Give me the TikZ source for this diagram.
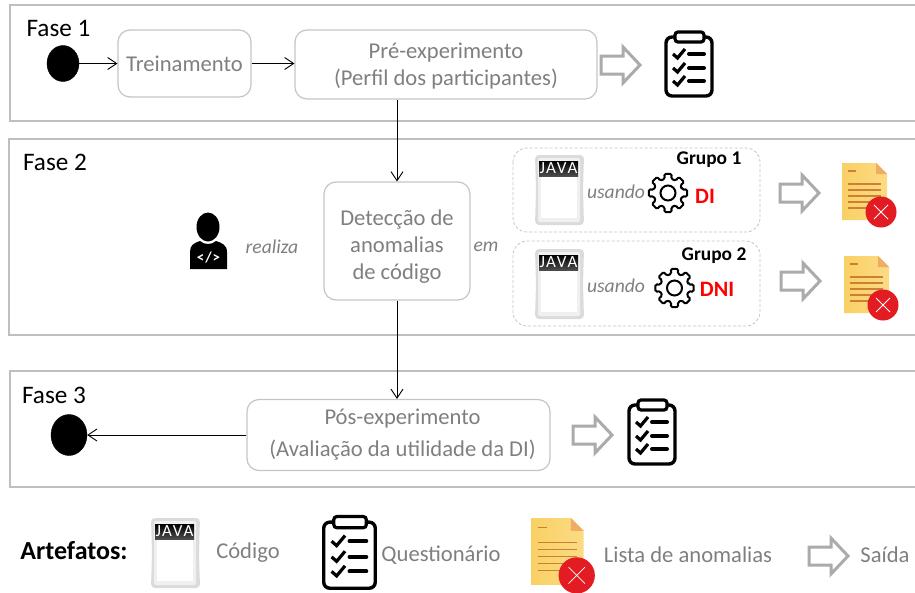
\documentclass[tikz,border=0pt]{standalone}
\usepackage{fontspec}
\setmainfont{Carlito}
\usetikzlibrary{arrows.meta, shapes.geometric}

\definecolor{framegray}{HTML}{BFBFBF}
\definecolor{boxgray}{HTML}{C4C4C4}
\definecolor{textgray}{HTML}{7F7F7F}
\definecolor{arrowgray}{HTML}{ABABAB}
\definecolor{anomalyred}{HTML}{E31B23}
\definecolor{sheetyellow}{HTML}{F9D065}
\definecolor{sheetyellowlight}{HTML}{FBDB84}
\definecolor{sheetfold}{HTML}{F0AC62}
\definecolor{sheetline}{HTML}{CC7F35}

\tikzset{
    framebox/.style={draw=framegray, line width=1.5pt},
    stepbox/.style={draw=boxgray, line width=1.2pt, rounded corners=12pt, text=textgray, align=center, font=\fontsize{22.6}{27}\selectfont},
    groupbox/.style={draw=boxgray, densely dashed, line width=0.8pt, rounded corners=14pt},
    blackdot/.style={draw, fill=black, ellipse, inner sep=0pt},
    flow/.style={-{Straight Barb[length=9pt,width=12pt]}, line width=0.9pt},
    phaselabel/.style={font=\fontsize{25.2}{29}\selectfont, text=black},
    graylabel/.style={font=\fontsize{22.6}{27}\selectfont, text=textgray},
    verblabel/.style={font=\fontsize{19.6}{23}\selectfont\itshape, text=textgray},
    grouplabel/.style={font=\fontsize{19.4}{22}\selectfont\bfseries, text=black},
    techlabel/.style={font=\fontsize{22}{26}\selectfont\bfseries, text=red},
    % hollow output arrow
    pics/outarrow/.style={code={
        \draw[arrowgray, line width=3pt, line join=miter]
            (-19,-9) -- (3,-9) -- (3,-18) -- (20,0) -- (3,18) -- (3,9) -- (-19,9) -- cycle;
    }},
    % clipboard with three check marks
    pics/clipboard/.style={code={
        \draw[line width=3.4pt, rounded corners=6pt, fill=white] (-23,-28) rectangle (23,31);
        \draw[line width=3.2pt, rounded corners=3pt, fill=white] (-14,-33) rectangle (15,-23);
        \foreach \ypos in {-11,3,16} {
            \draw[line width=3.2pt] (-16,\ypos) -- (-11.5,\ypos+4) -- (-4,\ypos-5);
            \draw[line width=4pt, line cap=round] (0,\ypos) -- (15,\ypos);
        }
    }},
    % code sheet with the black header
    pics/javasheet/.style={code={
        \fill[gray!28, rounded corners=4pt] (-24,-35) -- (25,-35) -- (24,0) -- (25,35) -- (-24,35) -- (-23,0) -- cycle;
        \fill[gray!12, rounded corners=2pt] (-21,-32) rectangle (21,32);
        \fill[white] (-18,-14) rectangle (18,28);
        \shade[top color=black, bottom color=black!70] (-20,-29) rectangle (19,-14);
        \node[text=white, inner sep=0pt, font=\fontsize{17}{18}\selectfont] (-label) at (-0.5,-21.5) {J\kern1pt A\kern1pt V\kern1pt A};
    }},
    % settings cog
    pics/cog/.style={code={
        \draw[line width=2pt, rounded corners=1.5pt]
            (-13:14.5) \foreach \ang in {0,45,...,315} {
                -- (\ang-11:19.5) -- (\ang+11:19.5) -- (\ang+13:14.5) -- (\ang+32:14.5)
            } -- cycle;
        \draw[line width=2pt] (0,0) circle (7.5pt);
    }},
    % anomaly list sheet
    pics/anomalydoc/.style={code={
        \shade[left color=sheetyellow, right color=sheetyellowlight]
            (-23,-29) -- (11,-29) -- (22,-18) -- (22,28) -- (-23,28) -- cycle;
        \fill[sheetfold] (11,-29) -- (22,-18) -- (11,-18) -- cycle;
        \draw[sheetline, line width=1.1pt] (-17,-21) -- (-9,-21);
        \foreach \ypos in {-8,-2,4,10,16} {
            \draw[sheetline, line width=1.1pt] (-17,\ypos) -- (16,\ypos);
        }
        \fill[anomalyred] (16,20) circle (15.5pt);
        \draw[white, line width=0.8pt] (9,13) -- (23,27) (9,27) -- (23,13);
    }}
}

\begin{document}
\begin{tikzpicture}[x=1pt, y=-1pt]
    \useasboundingbox (0,0) rectangle (915,592);

    % Fase 1
    \draw[framebox] (10,5) rectangle (930,121);
    \node[phaselabel] (fase1) at (58.5,28) {Fase 1};
    \node[blackdot, minimum width=32pt, minimum height=36pt] (inicio) at (63,63.5) {};
    \node[stepbox, minimum width=133pt, minimum height=67pt] (treino) at (184.5,63.5) {Treinamento};
    \node[stepbox, minimum width=302pt, minimum height=69pt] (preexp) at (446,64.5) {\rule{0pt}{19pt}Pré-experimento\\(Perfil dos participantes)};
    \pic at (620,65) {outarrow};
    \pic at (689,65) {clipboard};

    % Fase 2
    \draw[framebox] (9,139) rectangle (930,335);
    \node[phaselabel] (fase2) at (55,162) {Fase 2};
    \node[stepbox, minimum width=146pt, minimum height=118pt] (detec) at (397,241) {\rule{0pt}{27pt}Detecção de\\anomalias\\de código};
    \node[verblabel] (realiza) at (272,247) {realiza};
    \node[verblabel] (em) at (486,247) {em};

    % programmer
    \fill (208,227) ellipse (11.5pt and 14.5pt);
    \fill (190,269) -- (190,252) .. controls (190,245) and (194,243) .. (200,241)
        .. controls (204,245) and (212,245) .. (216,241)
        .. controls (222,243) and (227,245) .. (227,252) -- (227,269) -- cycle;
    \node[text=white, inner sep=0pt, font=\fontsize{15}{16}\selectfont\bfseries] (devcode) at (208.5,258) {<\kern1pt/\kern1pt>};

    % Grupo 1
    \draw[groupbox] (513,148) rectangle (760,232);
    \pic at (559,190) {javasheet};
    \node[verblabel] (usando1) at (616,192) {usando};
    \pic at (668,193) {cog};
    \node[grouplabel] (grupo1) at (709,160) {Grupo 1};
    \node[techlabel] (di) at (705,196) {DI};
    \pic at (799,193) {outarrow};
    \pic at (865,192) {anomalydoc};

    % Grupo 2
    \draw[groupbox] (513,241) rectangle (760,326);
    \pic at (559,284) {javasheet};
    \node[verblabel] (usando2) at (616,286) {usando};
    \pic at (674.5,288) {cog};
    \node[grouplabel] (grupo2) at (714,256) {Grupo 2};
    \node[techlabel] (dni) at (717,289) {DNI};
    \pic at (800,281) {outarrow};
    \pic at (867,285) {anomalydoc};

    % Fase 3
    \draw[framebox] (10,371) rectangle (930,487);
    \node[phaselabel] (fase3) at (54,395) {Fase 3};
    \node[stepbox, minimum width=303pt, minimum height=71pt] (posexp) at (398.5,435) {\hspace*{8pt}Pós-experimento\\[5pt]\hspace*{8pt}(Avaliação da utilidade da DI)};
    \node[blackdot, minimum width=36pt, minimum height=41pt] (fim) at (69,435) {};
    \pic at (592,435) {outarrow};
    \pic at (652,433) {clipboard};

    % connectors
    \draw[flow] (inicio.east) -- (treino.west);
    \draw[flow] (treino.east) -- (treino.east -| preexp.west);
    \draw[flow] (detec.north |- preexp.south) -- (detec.north);
    \draw[flow] (detec.south) -- (detec.south |- posexp.north);
    \draw[flow] (posexp.west) -- (fim.east);

    % Artefatos
    \node[font=\fontsize{26}{30}\selectfont\bfseries] (artefatos) at (74,551) {Artefatos:};
    \pic at (175,553) {javasheet};
    \node[graylabel] (codigo) at (248,553) {Código};
    \pic[scale=1.12] at (349.5,553.5) {clipboard};
    \node[graylabel] (questionario) at (441,555) {Questionário};
    \pic[scale=1.17] at (558,552) {anomalydoc};
    \node[graylabel] (lista) at (688,555) {Lista de anomalias};
    \pic at (828,556) {outarrow};
    \node[graylabel] (saida) at (885,555) {Saída};
\end{tikzpicture}
\end{document}
